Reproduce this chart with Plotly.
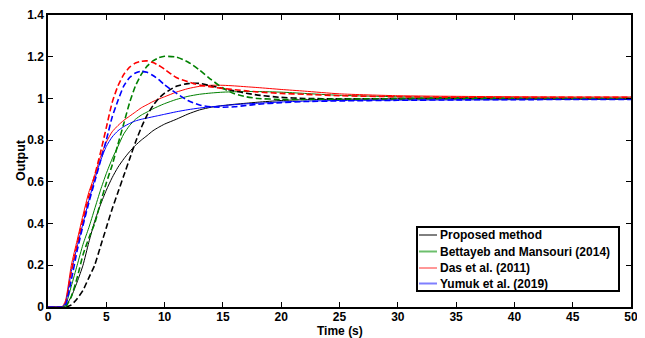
import plotly.graph_objects as go

time_s = [0, 1, 1.2, 1.5, 2, 2.5, 3, 3.5, 4, 4.5, 5, 5.5, 6, 6.5, 7, 7.5, 8, 8.5, 9, 9.5, 10,
          11, 12, 13, 14, 15, 16, 17, 18, 20, 22, 25, 30, 35, 40, 45, 50]

proposed = [0, 0, 0, 0.005, 0.05, 0.12, 0.2, 0.31, 0.41, 0.49, 0.56, 0.62, 0.67, 0.71, 0.745, 0.775, 0.8, 0.822, 0.845, 0.862, 0.877,
            0.9, 0.925, 0.945, 0.958, 0.966, 0.972, 0.977, 0.982, 0.99, 0.994, 0.996, 0.998, 0.999, 1.0, 1.0, 1.0]
proposed_dash = [0, 0, 0, 0, 0.01, 0.04, 0.08, 0.14, 0.2, 0.29, 0.38, 0.47, 0.55, 0.63, 0.71, 0.79, 0.86, 0.92, 0.965, 1.0, 1.025,
                 1.058, 1.071, 1.072, 1.06, 1.048, 1.036, 1.025, 1.016, 1.005, 1.0, 0.998, 0.999, 1.0, 1.0, 1.0, 1.0]

bettayeb = [0, 0, 0, 0.01, 0.1, 0.2, 0.3, 0.38, 0.47, 0.56, 0.64, 0.71, 0.77, 0.83, 0.87, 0.9, 0.92, 0.935, 0.95, 0.963, 0.975,
            0.995, 1.01, 1.02, 1.026, 1.03, 1.032, 1.033, 1.033, 1.03, 1.024, 1.015, 1.008, 1.004, 1.002, 1.001, 1.0]
bettayeb_dash = [0, 0, 0, 0, 0.05, 0.14, 0.25, 0.33, 0.4, 0.5, 0.595, 0.68, 0.78, 0.88, 0.98, 1.06, 1.115, 1.155, 1.18, 1.195, 1.202,
                 1.198, 1.175, 1.136, 1.09, 1.05, 1.022, 1.008, 1.0, 0.995, 0.995, 0.997, 0.999, 1.0, 1.0, 1.0, 1.0]

das = [0, 0, 0, 0.03, 0.2, 0.32, 0.44, 0.55, 0.63, 0.72, 0.79, 0.84, 0.87, 0.895, 0.915, 0.935, 0.955, 0.97, 0.985, 0.997, 1.008,
       1.03, 1.047, 1.058, 1.063, 1.063, 1.06, 1.056, 1.052, 1.043, 1.035, 1.022, 1.013, 1.01, 1.008, 1.007, 1.007]
das_dash = [0, 0, 0, 0.02, 0.17, 0.3, 0.42, 0.53, 0.63, 0.74, 0.86, 0.98, 1.06, 1.115, 1.15, 1.17, 1.178, 1.18, 1.172, 1.158, 1.14,
            1.1, 1.08, 1.064, 1.055, 1.048, 1.042, 1.036, 1.031, 1.024, 1.02, 1.013, 1.008, 1.006, 1.005, 1.005, 1.005]

yumuk = [0, 0, 0, 0.02, 0.17, 0.29, 0.4, 0.51, 0.61, 0.7, 0.77, 0.815, 0.845, 0.865, 0.88, 0.892, 0.9, 0.906, 0.912, 0.918, 0.924,
         0.936, 0.946, 0.954, 0.96, 0.965, 0.97, 0.974, 0.977, 0.983, 0.987, 0.99, 0.992, 0.993, 0.994, 0.995, 0.995]
yumuk_dash = [0, 0, 0, 0.01, 0.13, 0.27, 0.39, 0.5, 0.6, 0.7, 0.8, 0.91, 0.99, 1.06, 1.1, 1.122, 1.13, 1.125, 1.11, 1.09, 1.065,
              1.025, 0.99, 0.968, 0.96, 0.958, 0.96, 0.966, 0.972, 0.98, 0.985, 0.988, 0.991, 0.993, 0.994, 0.995, 0.995]

series_names = ["Proposed method", "Bettayeb and Mansouri (2014)", "Das et al. (2011)", "Yumuk et al. (2019)"]
solid_series = [proposed, bettayeb, das, yumuk]
dash_series = [proposed_dash, bettayeb_dash, das_dash, yumuk_dash]
colors = ["#000000", "#008000", "#ff0000", "#0000ff"]
legend_colors = ["#000000", "#6cbf6c", "#ff3030", "#7f7fff"]
x_title = "Time (s)"
y_title = "Output"

fig = go.Figure()
for name, ys, c in zip(series_names, solid_series, colors):
    fig.add_trace(go.Scatter(x=time_s, y=ys, mode="lines", name=name, showlegend=False,
                             line=dict(color=c, width=1, shape="spline", smoothing=0.6)))
for name, ys, c in zip(series_names, dash_series, colors):
    fig.add_trace(go.Scatter(x=time_s, y=ys, mode="lines", name=name + " (dashed)", showlegend=False,
                             line=dict(color=c, width=1.6, dash="6px,3px", shape="spline", smoothing=0.6)))

font_family = "Liberation Sans, Arial, sans-serif"
axis_common = dict(showline=True, linecolor="black", linewidth=1.5, mirror="ticks",
                   ticks="inside", ticklen=5, tickcolor="black", tickwidth=1,
                   showgrid=False, zeroline=False, automargin=False,
                   tickfont=dict(family=font_family, size=12, color="black"))

# The page body adds an 8px offset; target plot area on page: x 48..631, y 15..307
OFF = 8
W, H = 645 - OFF, 338 - OFF
L, T = 48 - OFF, 15 - OFF
R = W - (631 - OFF)
B = H - (307 - OFF)
pw, ph = W - L - R, H - T - B

def px_x(x):
    return (x - OFF - L) / pw

def px_y(y):
    return (H - B - (y - OFF)) / ph

shapes = [dict(type="rect", xref="paper", yref="paper",
               x0=px_x(417), x1=px_x(619), y0=px_y(291), y1=px_y(227),
               line=dict(color="black", width=2), fillcolor="white", layer="above")]
annotations = []
row_y = [235, 251.5, 268, 283.5]
for i, (name, c) in enumerate(zip(series_names, legend_colors)):
    yy = px_y(row_y[i])
    shapes.append(dict(type="line", xref="paper", yref="paper",
                       x0=px_x(419), x1=px_x(437), y0=yy, y1=yy,
                       line=dict(color=c, width=1 if i in (0, 2) else 2), layer="above"))
    annotations.append(dict(xref="paper", yref="paper", x=px_x(437.5), y=yy,
                            xanchor="left", yanchor="middle", showarrow=False,
                            text="<b>" + name + "</b>",
                            font=dict(family=font_family, size=12, color="black")))

# axis titles
annotations.append(dict(xref="paper", yref="paper", x=px_x(340), y=px_y(331),
                        xanchor="center", yanchor="middle", showarrow=False, borderpad=0,
                        text="<b>" + x_title + "</b>",
                        font=dict(family=font_family, size=12, color="black")))
annotations.append(dict(xref="paper", yref="paper", x=px_x(21), y=px_y(160),
                        xanchor="center", yanchor="middle", showarrow=False, textangle=-90,
                        text="<b>" + y_title + "</b>",
                        font=dict(family=font_family, size=12.5, color="black")))

fig.update_layout(
    width=W, height=H,
    margin=dict(l=L, r=R, t=T, b=B),
    paper_bgcolor="white", plot_bgcolor="white",
    font=dict(family=font_family, size=12, color="black"),
    xaxis=dict(range=[0, 50], dtick=5, tick0=0, ticklabelstandoff=-2,
               tickprefix="<b>", ticksuffix="</b>", **axis_common),
    yaxis=dict(range=[0, 1.4], dtick=0.2, tick0=0,
               tickprefix="<b>", ticksuffix="</b>", **axis_common),
    shapes=shapes,
    annotations=annotations,
    showlegend=False,
)

fig.write_html("out.html")
